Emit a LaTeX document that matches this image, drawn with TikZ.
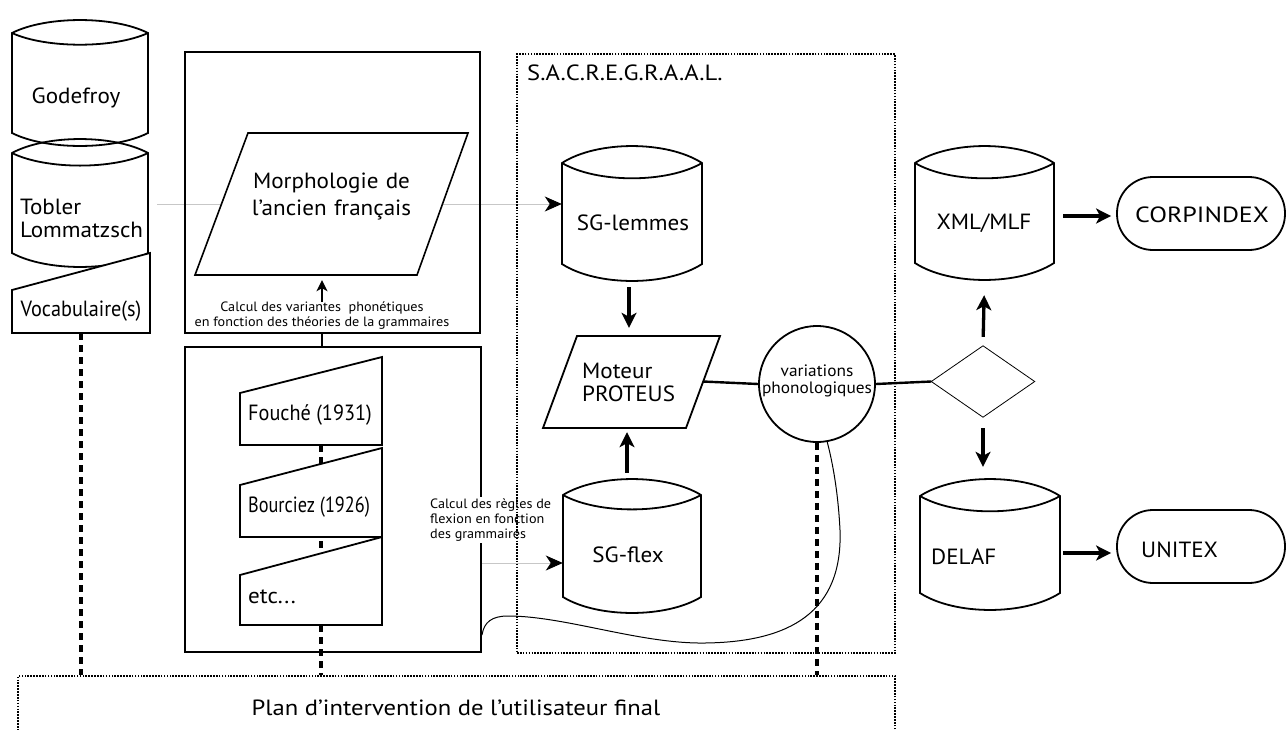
\documentclass[tikz,border=0pt]{standalone}
\usepackage{fontspec}
\setmainfont{PT Sans}[FakeStretch=1.05]
\newfontfamily\narrowA{PT Sans}[FakeStretch=0.92,Ligatures=TeX]
\newfontfamily\narrowB{PT Sans}[FakeStretch=0.83,Ligatures=TeX]
\newfontfamily\wideA{PT Sans}[FakeStretch=1.18,Ligatures=TeX]
\newfontfamily\wideB{PT Sans}[FakeStretch=1.12,Ligatures=TeX]
\usetikzlibrary{arrows.meta,backgrounds,fit,calc}
\tikzset{
  shp/.style={draw=black, line width=1.8pt, fill=white, line join=miter},
  bigbox/.style={draw=black, line width=2.5pt},
  dotbox/.style={draw=black, line width=1.3pt, dash pattern=on 1.6pt off 1.3pt},
  dashline/.style={line width=3.4pt, dash pattern=on 7pt off 5pt},
  thickarrow/.style={line width=3.3pt, -{Stealth[length=15pt,width=15pt,inset=4pt]}},
  smallarrow/.style={line width=1.9pt, -{Stealth[length=11pt,width=11pt,inset=3pt]}},
  greyarrow/.style={draw=black!22, line width=0.9pt, -{Stealth[length=17pt,width=15pt,inset=5pt,color=black]}},
  lbl/.style={font=\fontsize{22}{24}\selectfont, inner sep=0pt, align=center},
  lbll/.style={font=\fontsize{22}{23}\selectfont, inner sep=0pt, align=left},
  smalltxt/.style={font=\fontsize{13.5}{15}\selectfont, inner sep=0pt, align=center},
  circtxt/.style={font=\fontsize{16.5}{17}\selectfont, inner sep=0pt, align=center},
}
% cylinder: [extra] name, xl, yt, xr, yb, bulge
\newcommand{\dbcyl}[7][]{%
  \path[shp,#1] (#3,#4) .. controls ({#3+0.25*(#5-#3)},{#4-1.33*#7}) and ({#5-0.25*(#5-#3)},{#4-1.33*#7}) .. (#5,#4)
     -- (#5,#6) .. controls ({#5-0.25*(#5-#3)},{#6+1.33*#7}) and ({#3+0.25*(#5-#3)},{#6+1.33*#7}) .. (#3,#6) -- cycle;
  \draw[line width=1.8pt] (#3,#4) .. controls ({#3+0.25*(#5-#3)},{#4+1.2*#7}) and ({#5-0.25*(#5-#3)},{#4+1.2*#7}) .. (#5,#4);
  \coordinate (#2-nw) at (#3,{#4-#7});
  \coordinate (#2-se) at (#5,{#6+#7});
  \node[fit=(#2-nw)(#2-se), inner sep=0pt] (#2) {};
}
\begin{document}
\begin{tikzpicture}[x=1pt,y=-1pt]
\useasboundingbox (0,0) rectangle (1286,729);

% ---------- left stack ----------
\dbcyl{godefroy}{12}{33}{148}{133}{13}
\dbcyl[fill=none]{tobler}{12}{153}{148}{253}{14}
\path[shp] (12,290) -- (150,253) -- (150,333) -- (12,333) -- cycle;
\node[lbl] (godefroytxt) at (76,98) {Godefroy};
\node[lbll, anchor=west] (toblertxt) at (20,218.5) {Tobler\\Lommatzsch};
\node[lbl, font=\fontsize{22}{24}\narrowA] (vocab) at (81,311) {Vocabulaire(s)};

% ---------- upper grammar box ----------
\node[bigbox, fit={(185,52)(480,333)}, inner sep=0pt] (upbox) {};
\path[shp, line width=1.6pt] (248,133) -- (468,133) -- (417,275) -- (195,275) -- cycle;
\node[fit={(195,133)(468,275)}, inner sep=0pt, lbl, font=\fontsize{22}{27}\selectfont] (morph) {Morphologie de\\l’ancien français};
\node[smalltxt] (calcA) at (322,315.5) {Calcul des variantes \ phonétiques\\en fonction des théories de la grammaires};

% ---------- lower grammar box ----------
\node[bigbox, fit={(185,347)(481,652)}, inner sep=0pt] (lowbox) {};
\coordinate (colA) at (321,445);
\path[shp] (240,393) -- (382,357) -- (382,445) -- (240,445) -- cycle;
\path[shp] (240,485) -- (382,448) -- (382,537) -- (240,537) -- cycle;
\path[shp] (240,575) -- (382,537) -- (382,625) -- (240,625) -- cycle;
\node[lbll, anchor=west, font=\fontsize{22}{23}\narrowA] (fouche) at (248,415) {Fouché (1931)};
\node[lbll, anchor=west, font=\fontsize{22}{23}\narrowB] (bourciez) at (248,507) {Bourciez (1926)};
\node[lbll, anchor=west] (etc) at (248,597) {etc...};
\node[smalltxt, align=left, anchor=west, fill=white, inner sep=2pt] (calcB) at (428,520) {Calcul des règles de\\flexion en fonction\\des grammaires};
\coordinate (flexin) at (482,563);
\coordinate (curveS) at (482,635);

% ---------- S.A.C.R.E.G.R.A.A.L. ----------
\node[dotbox, fit={(517,54)(895,653)}, inner sep=0pt] (sacre) {};
\node[font=\fontsize{22}{22}\wideB, anchor=west, inner sep=0pt] (sacretxt) at (527,73) {S.A.C.R.E.G.R.A.A.L.};
\dbcyl{sglemmes}{562}{163}{702}{264}{17}
\node[lbl] (sglemmestxt) at (633,223) {SG-lemmes};
\path[shp] (577,336) -- (720,336) -- (686,428) -- (543,428) -- cycle;
\node[fit={(543,336)(720,428)}, inner sep=0pt] (moteur) {};
\node[lbll, anchor=west] (moteurtxt) at (582,382) {Moteur\\PROTEUS};
\coordinate (moteurR) at (703,381.5);
\dbcyl{sgflex}{563}{495}{701}{597}{16}
\node[lbl] (sgflextxt) at (628,555) {SG-flex};
\node[shp, circle, minimum size=116pt, inner sep=0pt] (phon) at (817,384) {};
\node[circtxt] (phontxt) at (817,381) {variations\\phonologiques};

% ---------- right part ----------
\node[inner sep=0pt, minimum width=103pt, minimum height=71pt] (dec) at (983,381.5) {};
\draw[line width=0.8pt, fill=white] (dec.west) -- (dec.north) -- (dec.east) -- (dec.south) -- cycle;
\dbcyl{xml}{915}{163}{1054}{263}{17}
\node[lbl] (xmltxt) at (984,223) {XML/MLF};
\dbcyl{delaf}{920}{496}{1060}{593}{17}
\node[lbll, anchor=west] (delaftxt) at (931,557) {DELAF};
\node[shp, rounded corners=36pt, minimum width=168pt, minimum height=73pt, inner sep=0pt] (corp) at (1201,213.5) {};
\node[lbl, font=\fontsize{22}{24}\wideA] (corptxt) at (1202,215) {CORPINDEX};
\node[shp, rounded corners=36pt, minimum width=168pt, minimum height=73pt, inner sep=0pt] (unitex) at (1201,546.5) {};
\node[lbll, anchor=west] (unitextxt) at (1141,550) {UNITEX};

% ---------- bottom plan ----------
\node[dotbox, fit={(18,676)(895,760)}, inner sep=0pt] (plan) {};
\node[font=\fontsize{22}{22}\wideB, inner sep=0pt] (plantxt) at (456,708) {Plan d’intervention de l’utilisateur final};

% ---------- connectors ----------
\begin{scope}[on background layer]
  \draw[dashline] (vocab) -- (vocab |- plan.north);
  \draw[dashline] (colA) -- (colA |- plan.north);
  \draw[dashline] (phon.south) -- (phon.south |- plan.north);
  \draw[greyarrow, shorten <=9pt] (tobler.east |- 0,204) -- (sglemmes.west |- 0,204);
  \draw[greyarrow] (flexin) -- (flexin -| sgflex.west);
\end{scope}
\draw[line width=2.4pt] (upbox.south -| calcA) -- (lowbox.north -| calcA);
\draw[smallarrow, shorten >=5pt] (calcA.north) -- (calcA.north |- morph.south);
\draw[line width=1pt] (curveS) .. controls (484,622) and (492,616) .. (508,616)
   .. controls (565,616) and (640,644) .. (705,643)
   .. controls (790,642) and (843,612) .. (840,530)
   .. controls (838,490) and (832,460) .. (phon.-80);
\draw[thickarrow, shorten <=6pt, shorten >=8pt] (sglemmes.south -| 629,0) -- (moteur.north -| 629,0);
\draw[thickarrow, shorten <=6pt, shorten >=4pt] (sgflex.north -| 627,0) -- (moteur.south -| 627,0);
\draw[line width=2.4pt] (moteurR) -- (phon.west);
\draw[line width=2.4pt] (phon.east) -- (dec.west);
\draw[thickarrow, shorten <=9pt, shorten >=15pt] (dec.north) -- (xml.south);
\draw[thickarrow, shorten <=11pt, shorten >=12pt] (dec.south) -- (delaf.north -| dec.south);
\draw[thickarrow, shorten <=9pt, shorten >=5pt] (xml.east |- 0,216) -- (corp.west |- 0,216);
\draw[thickarrow, shorten <=3pt, shorten >=5pt] (delaf.east |- 0,553) -- (unitex.west |- 0,553);
\end{tikzpicture}
\end{document}
